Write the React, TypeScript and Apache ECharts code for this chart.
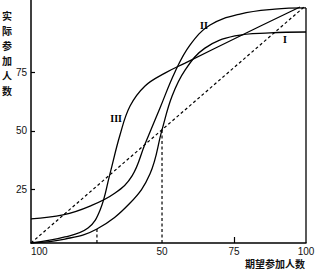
import React, { useEffect, useRef } from "react";
import * as echarts from "echarts";

// Axis ticks
const xTickValues = [4.5, 50, 75, 100];
const xTickLabels = ["100", "50", "75", "100"];
const xTickMarks = [75];
const yTickValues = [25, 50, 75];
const yTickLabels = ["25", "50", "75"];

// Curve I
const curveIx = [4.5, 16.3, 27.4, 38.9, 45.8, 50.0, 53.5, 58.0, 64.9, 75.3, 87.5, 100];
const curveIy = [2, 3.7, 8.0, 19.1, 31.5, 50.4, 64.9, 76.0, 85.4, 90.6, 91.9, 92.3];

// Curve II
const curveIIx = [4.5, 15.6, 25.0, 33.7, 39.6, 44.1, 49.3, 54.5, 59.7, 66.7, 77.1, 89.2, 100];
const curveIIy = [12.3, 14.0, 17.8, 23.4, 30.7, 44.4, 59.8, 75.2, 86.7, 95.3, 100.0, 102.1, 102.6];

// Curve III
const curveIIIx = [4.5, 16.3, 24.3, 28.5, 31.9, 35.4, 38.9, 44.1, 51.0, 58.0, 77.1, 97.9];
const curveIIIy = [2, 4.6, 8.4, 16.1, 31.5, 48.2, 60.6, 69.2, 74.7, 79.0, 90.6, 103.0];

// Reference lines
const diagonalX = [4.5, 99.7];
const diagonalY = [2, 103.4];
const dropAX = [27.4, 27.4];
const dropAY = [2, 8.0];
const dropBX = [50, 50];
const dropBY = [2, 50.4];
const rightEdgeX = [100, 100];
const rightEdgeY = [2, 102.6];

const zip = (xs: number[], ys: number[]) => xs.map((x, i) => [x, ys[i]]);

export default function App() {
  const ref = useRef<HTMLDivElement>(null);

  useEffect(() => {
    if (!ref.current) return;
    const chart = echarts.init(ref.current, undefined, { renderer: "svg" });
    const solid = { color: "#000", width: 1.3 };
    const dashed = { color: "#000", width: 1.2, type: [3, 2.5] as any };
    const mk = (name: string, data: number[][], lineStyle: any, smooth: number | boolean) => ({
      name,
      type: "line",
      data,
      showSymbol: false,
      symbol: "none",
      smooth,
      lineStyle,
      silent: true,
      z: 3,
    });
    const numFont = { fontFamily: "Liberation Sans", fontSize: 10, color: "#111" };
    chart.setOption({
      animation: false,
      backgroundColor: "#fff",
      grid: { left: 31, right: 9, top: 0, bottom: 27, outerBoundsMode: "none" },
      xAxis: {
        type: "value",
        min: 4.5,
        max: 100,
        axisLine: { show: true, lineStyle: { color: "#000", width: 1.5 } },
        axisTick: { show: true, inside: true, length: 6, customValues: xTickMarks, lineStyle: { color: "#000", width: 1.2 } },
        axisLabel: {
          ...numFont,
          margin: 3,
          customValues: xTickValues,
          alignMinLabel: "left",
          formatter: (v: number) => {
            const i = xTickValues.findIndex((t) => Math.abs(t - v) < 1e-6);
            return i >= 0 ? xTickLabels[i] : "";
          },
        },
        splitLine: { show: false },
      },
      yAxis: {
        type: "value",
        min: 2,
        max: 106,
        axisLine: { show: true, lineStyle: { color: "#000", width: 1.5 } },
        axisTick: { show: true, inside: true, length: 4, customValues: yTickValues, lineStyle: { color: "#000", width: 1.2 } },
        axisLabel: {
          ...numFont,
          margin: 4,
          customValues: yTickValues,
          formatter: (v: number) => {
            const i = yTickValues.findIndex((t) => Math.abs(t - v) < 1e-6);
            return i >= 0 ? yTickLabels[i] : "";
          },
        },
        splitLine: { show: false },
      },
      series: [
        mk("I", zip(curveIx, curveIy), solid, 0.4),
        mk("II", zip(curveIIx, curveIIy), solid, 0.4),
        mk("III", zip(curveIIIx, curveIIIy), solid, 0.4),
        mk("diag", zip(diagonalX, diagonalY), dashed, false),
        mk("dropA", zip(dropAX, dropAY), dashed, false),
        mk("dropB", zip(dropBX, dropBY), dashed, false),
        mk("edge", zip(rightEdgeX, rightEdgeY), { color: "#000", width: 1.3 }, false),
      ],
      graphic: [
        {
          type: "text",
          left: 2,
          top: 8,
          style: {
            text: "实\n际\n参\n加\n人\n数",
            fontFamily: "Noto Sans CJK SC",
            fontWeight: "bold",
            fontSize: 10,
            lineHeight: 15,
            fill: "#111",
          },
        },
        {
          type: "text",
          x: 305,
          y: 263,
          style: {
            text: "期望参加人数",
            fontFamily: "Noto Sans CJK SC",
            fontWeight: "bold",
            fontSize: 10,
            fill: "#111",
            align: "right",
            verticalAlign: "middle",
          },
        },
        {
          type: "text",
          x: 122,
          y: 118,
          style: { text: "III", fontFamily: "Liberation Serif", fontWeight: "bold", fontSize: 10, fill: "#000", align: "right", verticalAlign: "middle" },
        },
        {
          type: "text",
          x: 204,
          y: 25,
          style: { text: "II", fontFamily: "Liberation Serif", fontWeight: "bold", fontSize: 10, fill: "#000", align: "center", verticalAlign: "middle" },
        },
        {
          type: "text",
          x: 285,
          y: 39,
          style: { text: "I", fontFamily: "Liberation Serif", fontWeight: "bold", fontSize: 10, fill: "#000", align: "center", verticalAlign: "middle" },
        },
      ],
    });
    return () => chart.dispose();
  }, []);

  return (
    <div
      ref={ref}
      style={{ position: "fixed", left: 0, top: 0, width: 315, height: 270, background: "#fff" }}
    />
  );
}
